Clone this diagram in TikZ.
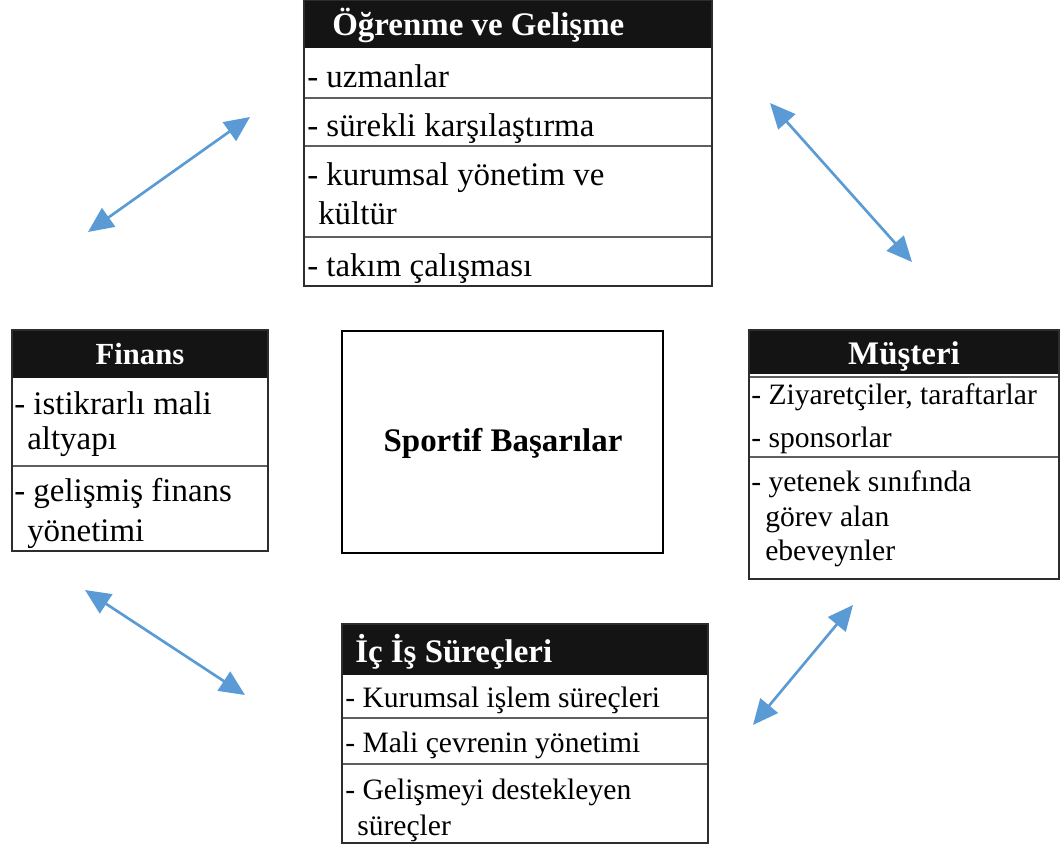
\documentclass[tikz,border=0pt]{standalone}
\usepackage{fontspec}
\setmainfont{Liberation Serif}
\usetikzlibrary{arrows.meta}
\definecolor{arrowblue}{RGB}{91,155,213}
\definecolor{framegray}{RGB}{45,45,45}
\definecolor{sepgray}{RGB}{95,95,95}
\definecolor{barblack}{RGB}{20,20,20}
\tikzset{
  boxline/.style={draw=framegray, line width=1.3pt},
  sepline/.style={draw=sepgray, line width=1.4pt},
  titlebar/.style={fill=barblack},
  ttl/.style={font=\fontsize{24.7}{29}\selectfont\bfseries, text=white, inner sep=0pt, anchor=base west},
  itm/.style={font=\fontsize{24.7}{29}\selectfont, inner sep=0pt, anchor=base west},
  itms/.style={font=\fontsize{22.2}{26}\selectfont, inner sep=0pt, anchor=base west},
  link/.style={draw=arrowblue, line width=2pt, {Triangle[length=19pt,width=17pt]}-{Triangle[length=19pt,width=17pt]}},
}
\begin{document}
\begin{tikzpicture}[x=0.75pt,y=-0.75pt]
\useasboundingbox (0,0) rectangle (1064,848);

% --- Öğrenme ve Gelişme
\fill[titlebar] (304,0) rectangle (712,48);
\draw[sepline] (304,98) -- (712,98) (304,146) -- (712,146) (304,237) -- (712,237);
\draw[boxline] (304,0) rectangle (712,286);
\node[ttl] (ogT) at (332,36) {Öğrenme ve Gelişme};
\node[itm] (og1) at (307,88) {- uzmanlar};
\node[itm] (og2) at (307,137) {- sürekli karşılaştırma};
\node[itm] (og3) at (307,186) {- kurumsal yönetim ve};
\node[itm] (og3b) at (318,225) {kültür};
\node[itm] (og4) at (307,277) {- takım çalışması};

% --- Finans
\fill[titlebar] (12,330) rectangle (268,378);
\draw[sepline] (12,466) -- (268,466);
\draw[boxline] (12,330) rectangle (268,551);
\node[ttl, anchor=base, font=\fontsize{23}{28}\selectfont\bfseries] (fnT) at (140,365) {Finans};
\node[itm] (fn1) at (14,415) {- istikrarlı mali};
\node[itm] (fn1b) at (27,450) {altyapı};
\node[itm] (fn2) at (14,502) {- gelişmiş finans};
\node[itm] (fn2b) at (27,541) {yönetimi};

% --- Müşteri
\fill[titlebar] (749,330) rectangle (1059,374);
\draw[sepline] (749,377) -- (1059,377) (749,457) -- (1059,457);
\draw[boxline] (749,330) rectangle (1059,579);
\node[ttl, anchor=base] (msT) at (904,365) {Müşteri};
\node[itms] (ms1) at (751,405) {- Ziyaretçiler, taraftarlar};
\node[itms] (ms2) at (751,448) {- sponsorlar};
\node[itms] (ms3) at (751,492) {- yetenek sınıfında};
\node[itms] (ms3b) at (765,527) {görev alan};
\node[itms] (ms3c) at (765,560) {ebeveynler};

% --- İç İş Süreçleri
\fill[titlebar] (342,624) rectangle (708,675);
\draw[sepline] (342,718) -- (708,718) (342,764) -- (708,764);
\draw[boxline] (342,624) rectangle (708,843);
\node[ttl] (isT) at (355,662) {İç İş Süreçleri};
\node[itms] (is1) at (345,707) {- Kurumsal işlem süreçleri};
\node[itms] (is2) at (345,752) {- Mali çevrenin yönetimi};
\node[itms] (is3) at (345,799) {- Gelişmeyi destekleyen};
\node[itms] (is3b) at (357,835) {süreçler};

% --- center
\draw[black, line width=2.2pt] (342,331) rectangle (663,553);
\node[font=\fontsize{24.7}{29}\selectfont\bfseries, inner sep=0pt, anchor=base] (ctr) at (503,452) {Sportif Başarılar};

% --- arrows
\coordinate (a1s) at (88,232);  \coordinate (a1e) at (250,117);
\coordinate (a2s) at (770,103); \coordinate (a2e) at (912,262);
\coordinate (a3s) at (85,590);  \coordinate (a3e) at (245,695);
\coordinate (a4s) at (853,605); \coordinate (a4e) at (753,725);
\draw[link] (a1s) -- (a1e);
\draw[link] (a2s) -- (a2e);
\draw[link] (a3s) -- (a3e);
\draw[link] (a4s) -- (a4e);
\end{tikzpicture}
\end{document}
